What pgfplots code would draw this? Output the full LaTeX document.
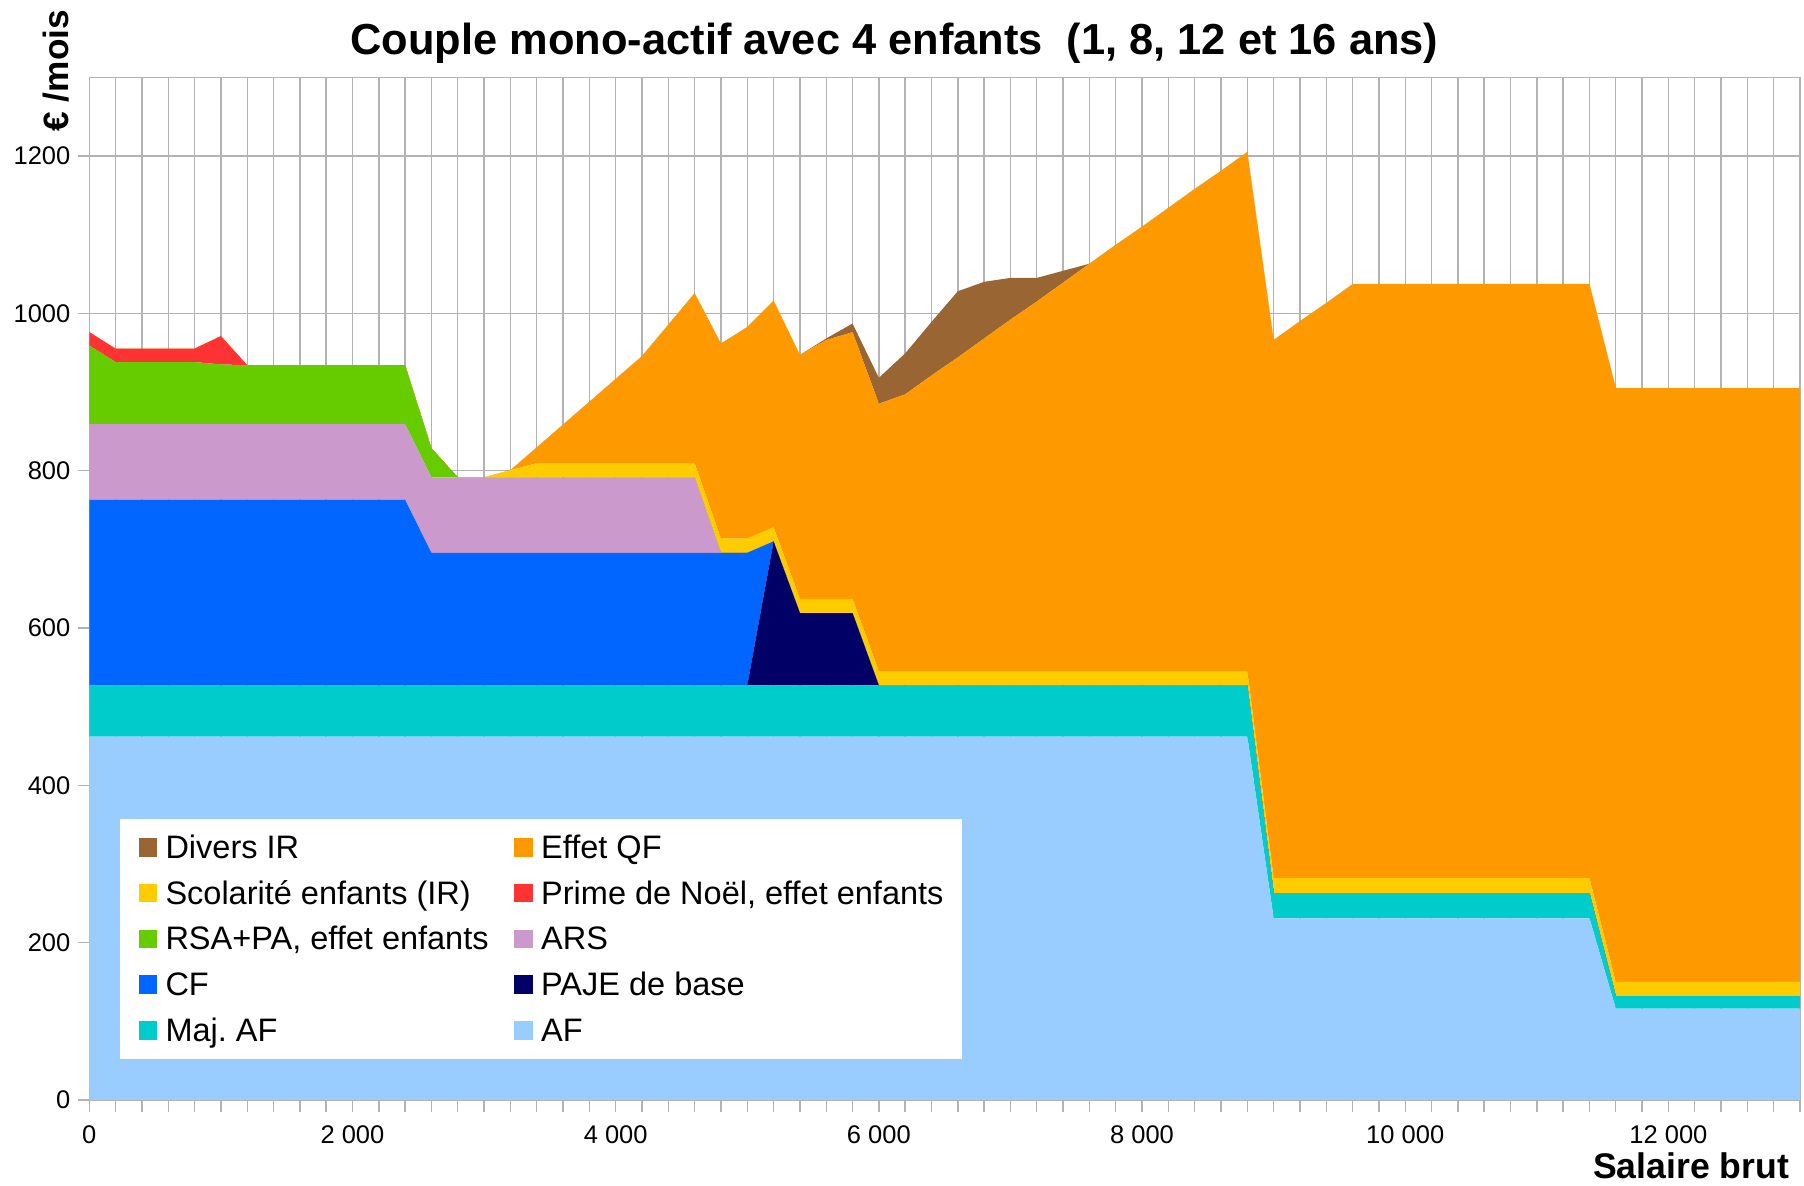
\documentclass[border=0pt]{standalone}
\usepackage{pgfplots}
\pgfplotsset{compat=1.18}
\usepackage{pgfplotstable}
\usepackage{fontspec}
\setmainfont{Liberation Sans}
\frenchspacing
\definecolor{cAF}{HTML}{99CCFF}
\definecolor{cMAF}{HTML}{00CCCC}
\definecolor{cPAJE}{HTML}{000066}
\definecolor{cCF}{HTML}{0066FF}
\definecolor{cARS}{HTML}{CC99CC}
\definecolor{cRSA}{HTML}{66CC00}
\definecolor{cNOEL}{HTML}{FF3333}
\definecolor{cSCOL}{HTML}{FFCC00}
\definecolor{cQF}{HTML}{FF9900}
\definecolor{cDIV}{HTML}{996633}
\definecolor{gridgray}{HTML}{B3B3B3}
\pgfplotstableread{
x AF MAF PAJE CF ARS RSA NOEL SCOL QF DIV
0 462 65 0 236 96 100 17 0 0 0
200 462 65 0 236 96 79 17 0 0 0
400 462 65 0 236 96 79 17 0 0 0
600 462 65 0 236 96 79 17 0 0 0
800 462 65 0 236 96 79 17 0 0 0
1000 462 65 0 236 96 76 36 0 0 0
1200 462 65 0 236 96 75 0 0 0 0
1400 462 65 0 236 96 75 0 0 0 0
1600 462 65 0 236 96 75 0 0 0 0
1800 462 65 0 236 96 75 0 0 0 0
2000 462 65 0 236 96 75 0 0 0 0
2200 462 65 0 236 96 75 0 0 0 0
2400 462 65 0 236 96 75 0 0 0 0
2600 462 65 0 168.5 96 37 0 0 0 0
2800 462 65 0 168.5 96 0 0 0 0 0
3000 462 65 0 168.5 96 0 0 0 0 0
3200 462 65 0 168.5 96 0 0 9 0 0
3400 462 65 0 168.5 96 0 0 18 20 0
3600 462 65 0 168.5 96 0 0 18 49 0
3800 462 65 0 168.5 96 0 0 18 78 0
4000 462 65 0 168.5 96 0 0 18 107 0
4200 462 65 0 168.5 96 0 0 18 136 0
4400 462 65 0 168.5 96 0 0 18 176 0
4600 462 65 0 168.5 96 0 0 18 216 0
4800 462 65 0 168.5 0 0 0 18 248 0
5000 462 65 0 168.5 0 0 0 18 269 0
5200 462 65 183 0 0 0 0 18 288 0
5400 462 65 92 0 0 0 0 18 310 0
5600 462 65 92 0 0 0 0 18 329 2
5800 462 65 92 0 0 0 0 18 339 11
6000 462 65 0 0 0 0 0 18 340 33
6200 462 65 0 0 0 0 0 18 352 52
6400 462 65 0 0 0 0 0 18 376 68
6600 462 65 0 0 0 0 0 18 399 84
6800 462 65 0 0 0 0 0 18 423 72
7000 462 65 0 0 0 0 0 18 447 53
7200 462 65 0 0 0 0 0 18 470 30
7400 462 65 0 0 0 0 0 18 494 15
7600 462 65 0 0 0 0 0 18 518 0
7800 462 65 0 0 0 0 0 18 542 0
8000 462 65 0 0 0 0 0 18 565 0
8200 462 65 0 0 0 0 0 18 589 0
8400 462 65 0 0 0 0 0 18 613 0
8600 462 65 0 0 0 0 0 18 636 0
8800 462 65 0 0 0 0 0 18 660 0
9000 231 32 0 0 0 0 0 19 684 0
9200 231 32 0 0 0 0 0 19 708 0
9400 231 32 0 0 0 0 0 19 731 0
9600 231 32 0 0 0 0 0 19 755 0
9800 231 32 0 0 0 0 0 19 755 0
10000 231 32 0 0 0 0 0 19 755 0
10200 231 32 0 0 0 0 0 19 755 0
10400 231 32 0 0 0 0 0 19 755 0
10600 231 32 0 0 0 0 0 19 755 0
10800 231 32 0 0 0 0 0 19 755 0
11000 231 32 0 0 0 0 0 19 755 0
11200 231 32 0 0 0 0 0 19 755 0
11400 231 32 0 0 0 0 0 19 755 0
11600 116 16 0 0 0 0 0 18 755 0
11800 116 16 0 0 0 0 0 18 755 0
12000 116 16 0 0 0 0 0 18 755 0
12200 116 16 0 0 0 0 0 18 755 0
12400 116 16 0 0 0 0 0 18 755 0
12600 116 16 0 0 0 0 0 18 755 0
12800 116 16 0 0 0 0 0 18 755 0
13000 116 16 0 0 0 0 0 18 755 0
}\data
\begin{document}
\begin{tikzpicture}
\useasboundingbox (-44.65pt,-43pt) rectangle (857.35pt,550pt);
\begin{axis}[
  at={(0pt,0pt)}, anchor=south west,
  scale only axis, width=855.35pt, height=511.35pt,
  xmin=0, xmax=13000, ymin=0, ymax=1300,
  stack plots=y,
  scaled x ticks=false, scaled y ticks=false,
  xtick={0,2000,4000,6000,8000,10000,12000},
  xticklabels={0,2~000,4~000,6~000,8~000,10~000,12~000},
  minor xtick={0,200,...,13000},
  ytick={0,200,...,1200},
  yticklabels={0,200,400,600,800,1000,1200},
  tick pos=left, tick align=outside,
  major tick length=5.8pt, minor tick length=5.8pt,
  tick style={draw=gridgray, line width=0.7pt},
  minor tick style={draw=gridgray, line width=0.7pt},
  xmajorgrids, xminorgrids, ymajorgrids,
  major grid style={draw=gridgray, line width=0.7pt},
  minor grid style={draw=gridgray, line width=0.7pt},
  axis line style={draw=gridgray, line width=0.7pt},
  tick label style={font=\fontsize{12.75}{15}\selectfont, text=black, inner sep=0pt},
  xticklabel style={anchor=north, yshift=-6.7pt},
  yticklabel style={anchor=east, xshift=-3.5pt},
  legend columns=2, reverse legend, legend cell align=left,
  legend style={at={(0.01754,0.2754)}, anchor=north west, draw=none, fill=white,
    inner xsep=9.4pt, inner ysep=5.8pt, row sep=5.65pt,
    font=\fontsize{16.25}{19}\selectfont,
    nodes={inner sep=0pt, text height=14pt, text depth=3.2pt},
    /tikz/every odd column/.append style={column sep=4.2pt},
    /tikz/every even column/.append style={column sep=12.8pt}},
  legend image code/.code={\fill[#1] (0pt,-4.6pt) rectangle (9.3pt,4.6pt);},
]
\addplot[fill=cAF, draw=none] table[x=x, y=AF] {\data} \closedcycle;
\addlegendentry{AF}
\addplot[fill=cMAF, draw=none] table[x=x, y=MAF] {\data} \closedcycle;
\addlegendentry{Maj.\ AF}
\addplot[fill=cPAJE, draw=none] table[x=x, y=PAJE] {\data} \closedcycle;
\addlegendentry{PAJE de base}
\addplot[fill=cCF, draw=none] table[x=x, y=CF] {\data} \closedcycle;
\addlegendentry{CF}
\addplot[fill=cARS, draw=none] table[x=x, y=ARS] {\data} \closedcycle;
\addlegendentry{ARS}
\addplot[fill=cRSA, draw=none] table[x=x, y=RSA] {\data} \closedcycle;
\addlegendentry{RSA+PA, effet enfants}
\addplot[fill=cNOEL, draw=none] table[x=x, y=NOEL] {\data} \closedcycle;
\addlegendentry{Prime de Noël, effet enfants}
\addplot[fill=cSCOL, draw=none] table[x=x, y=SCOL] {\data} \closedcycle;
\addlegendentry{Scolarité enfants (IR)}
\addplot[fill=cQF, draw=none] table[x=x, y=QF] {\data} \closedcycle;
\addlegendentry{Effet QF}
\addplot[fill=cDIV, draw=none] table[x=x, y=DIV] {\data} \closedcycle;
\addlegendentry{Divers IR}
\end{axis}
\node[anchor=base, inner sep=0pt, font=\fontsize{21.7}{26}\selectfont\bfseries] at (402.6pt,522.5pt) {Couple mono-actif avec 4 enfants\ \ (1, 8, 12 et 16 ans)};
\node[anchor=base east, inner sep=0pt, font=\fontsize{17.8}{21}\selectfont\bfseries] at (850pt,-39.4pt) {Salaire brut};
\node[rotate=90, anchor=base west, inner sep=0pt, font=\fontsize{17.6}{21}\selectfont\bfseries] at (-10.5pt,484.1pt) {€ /mois};
\end{tikzpicture}
\end{document}
